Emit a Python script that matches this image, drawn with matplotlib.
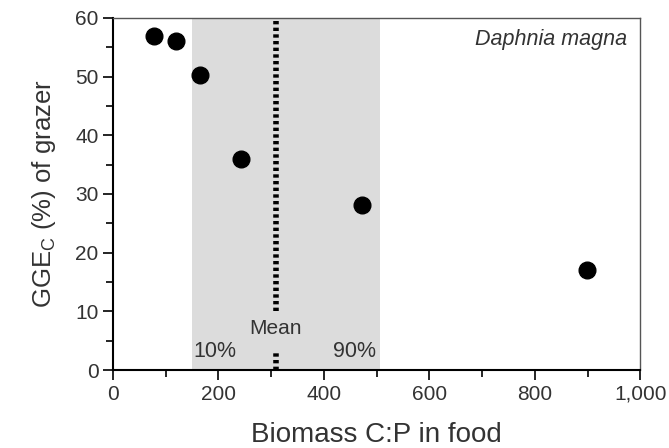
import matplotlib
matplotlib.use('Agg')
import matplotlib.pyplot as plt
from matplotlib.ticker import MultipleLocator, FuncFormatter

plt.rcParams['font.family'] = ['Liberation Sans', 'DejaVu Sans']

cp_food = [77, 120, 164, 242, 472, 899]
gge = [57, 56, 50.2, 35.9, 28.1, 17.1]
p10, p90, cp_mean = 150, 507, 309

fig = plt.figure(figsize=(6.69, 4.48), dpi=100)
ax = fig.add_axes([0.169, 0.174, 0.788, 0.786])

ax.axvspan(p10, p90, color='#dcdcdc', lw=0, zorder=0)
ax.vlines(cp_mean, 10, 60, colors='black', linestyles=(0, (0.6, 0.6)), lw=4, zorder=2)
ax.vlines(cp_mean, 0, 3.2, colors='black', linestyles=(0, (0.6, 0.6)), lw=4, zorder=2)
ax.plot(cp_food, gge, 'o', color='black', ms=12, zorder=3)

tc = '#333333'
ax.text(cp_mean, 7.0, 'Mean', ha='center', va='center', fontsize=15, color=tc)
ax.text(p10 + 3, 3.2, '10%', ha='left', va='center', fontsize=15.5, color=tc)
ax.text(p90 - 8, 3.2, '90%', ha='right', va='center', fontsize=15.5, color=tc)
ax.text(0.975, 0.94, 'Daphnia magna', transform=ax.transAxes, ha='right', va='center',
        fontsize=15.5, style='italic', color=tc)

ax.set_xlim(0, 1000)
ax.set_ylim(0, 60)
ax.xaxis.set_major_locator(MultipleLocator(200))
ax.xaxis.set_minor_locator(MultipleLocator(100))
ax.yaxis.set_major_locator(MultipleLocator(10))
ax.yaxis.set_minor_locator(MultipleLocator(5))
ax.xaxis.set_major_formatter(FuncFormatter(lambda v, p: f'{int(v):,}'))
ax.tick_params(which='major', length=7, width=1.2, labelsize=15, labelcolor=tc, direction='out')
ax.tick_params(which='minor', length=5, width=1.2, direction='out')

for s in ['left', 'bottom']:
    ax.spines[s].set_linewidth(1.5)
    ax.spines[s].set_color('black')
for s in ['top', 'right']:
    ax.spines[s].set_linewidth(1)
    ax.spines[s].set_color('#555555')

ax.set_xlabel('Biomass C:P in food', fontsize=20, color=tc, labelpad=13)
ax.set_ylabel('GGE$_\\mathregular{C}$ (%) of grazer', fontsize=18.5, color=tc, labelpad=12)

fig.savefig('out.png', dpi=100, facecolor='white')
